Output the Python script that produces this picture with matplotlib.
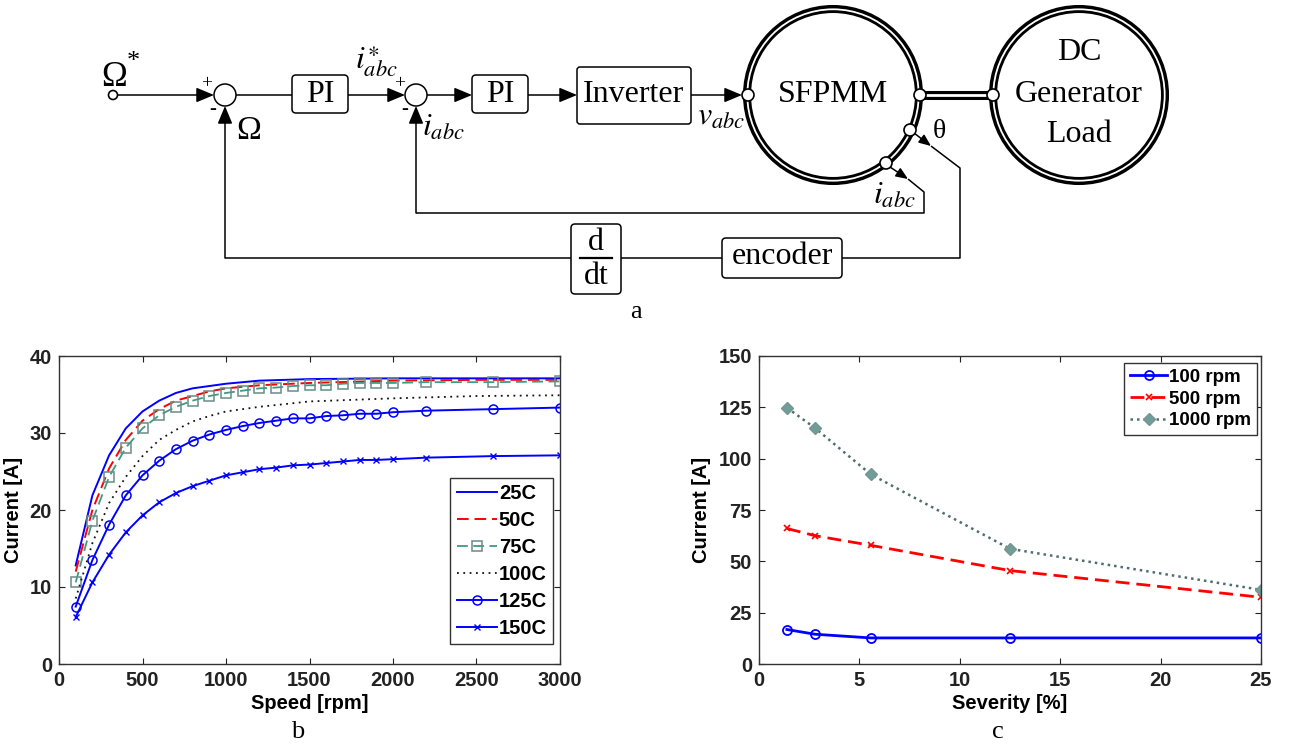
import matplotlib.pyplot as plt
from matplotlib.patches import Circle, FancyBboxPatch

plt.rcParams['mathtext.fontset'] = 'stix'

# ---- data: plot b (current vs speed for winding temperatures) ----
speed = [100, 200, 300, 400, 500, 600, 700, 800, 900, 1000, 1100, 1200, 1300,
         1400, 1500, 1600, 1700, 1800, 1900, 2000, 2200, 2600, 3000]
speed_coarse = [100, 200, 300, 400, 500, 600, 700, 800, 900, 1000, 1200, 1500,
                2000, 2500, 3000]
cur_25 = [12.8, 21.9, 27.1, 30.6, 32.8, 34.2, 35.2, 35.8, 36.1, 36.4, 36.8, 37.0,
          37.1, 37.1, 37.1]
cur_50 = [12.0, 20.0, 25.4, 29.1, 31.6, 33.1, 34.2, 34.8, 35.4, 35.8, 36.2, 36.5,
          36.8, 36.9, 36.9]
cur_100 = [8.5, 15.7, 20.9, 24.3, 27.0, 29.1, 30.4, 31.5, 32.2, 32.8, 33.4, 34.1,
           34.5, 34.8, 34.9]
cur_75 = [10.6, 18.6, 24.3, 28.1, 30.6, 32.3, 33.4, 34.2, 34.8, 35.2, 35.5, 35.8,
          35.9, 36.1, 36.2, 36.2, 36.4, 36.5, 36.5, 36.5, 36.6, 36.6, 36.7]
cur_125 = [7.45, 13.5, 18.1, 21.9, 24.5, 26.4, 27.9, 29.0, 29.8, 30.4, 30.9, 31.3,
           31.6, 31.9, 31.9, 32.2, 32.3, 32.5, 32.5, 32.7, 32.9, 33.1, 33.3]
cur_150 = [6.1, 10.6, 14.2, 17.1, 19.3, 21.0, 22.2, 23.1, 23.8, 24.5, 24.9, 25.3,
           25.5, 25.8, 25.9, 26.1, 26.3, 26.5, 26.5, 26.6, 26.8, 27.0, 27.1]

# ---- data: plot c (current vs fault severity) ----
severity = [1.39, 2.78, 5.56, 12.5, 25.0]
cur_100rpm = [16.8, 14.5, 12.7, 12.7, 12.7]
cur_500rpm = [66.0, 62.5, 57.8, 45.5, 32.5]
cur_1000rpm = [124.8, 115.0, 92.4, 56.1, 36.1]

fig = plt.figure(figsize=(12.9, 7.44), dpi=100)

# ---------------- block diagram (pixel coordinates) ----------------
ax0 = fig.add_axes([0, 0, 1, 1])
ax0.set_xlim(0, 1290)
ax0.set_ylim(744, 0)
ax0.axis('off')

LW = 1.1
SERIF = 'Liberation Serif'


def wire(xs, ys):
    ax0.plot(xs, ys, color='k', lw=LW, solid_capstyle='butt', zorder=2)


def arrow(x0, y0, x1, y1, scale=18):
    ax0.annotate('', xy=(x1, y1), xytext=(x0, y0),
                 arrowprops=dict(arrowstyle='-|>,head_length=0.6,head_width=0.25',
                                 color='k', lw=LW, shrinkA=0, shrinkB=0,
                                 mutation_scale=scale), zorder=3)


def box(x0, y0, x1, y1, rs=4):
    ax0.add_patch(FancyBboxPatch((x0, y0), x1 - x0, y1 - y0,
                                 boxstyle='round,pad=0,rounding_size=%g' % rs,
                                 fc='white', ec='k', lw=LW, zorder=4))


def label(x, y, s, size, **kw):
    ax0.text(x, y, s, fontsize=size, family=SERIF, ha='center', va='center',
             zorder=6, **kw)


def terminal(x, y, r=6):
    ax0.add_patch(Circle((x, y), r, fc='white', ec='k', lw=1.2, zorder=7))


def machine(cx, cy, r=86):
    ax0.add_patch(Circle((cx, cy), r, fill=False, ec='k', lw=5.8, zorder=3))
    ax0.add_patch(Circle((cx, cy), r - 0.3, fill=False, ec='white', lw=1.3, zorder=3))


# reference input
label(114, 77, 'Ω', 25)
label(133, 62, '*', 19)
terminal(113, 95, 4.5)
arrow(117.5, 95, 214, 95)

# speed summing junction
ax0.add_patch(Circle((225, 95), 11, fc='white', ec='k', lw=LW, zorder=4))
label(207, 84, '+', 14)
label(213, 110, '-', 15)
label(249, 131, 'Ω', 24)
wire([236, 292], [95, 95])
box(292, 75, 348, 113)
label(320, 95, 'PI', 23)
arrow(348, 95, 405, 95)

# current summing junction
ax0.add_patch(Circle((416, 95), 11, fc='white', ec='k', lw=LW, zorder=4))
label(400, 84, '+', 14)
label(405, 110, '-', 15)
label(376, 62, r'$i^{\ast}_{abc}$', 23)
label(443, 128, r'$i_{abc}$', 23)
arrow(427, 95, 472, 95)
box(472, 75, 528, 113)
label(500, 95, 'PI', 23)
arrow(528, 95, 577, 95)
box(577, 67, 691, 124, rs=3)
label(634, 94, 'Inverter', 23)
arrow(691, 95, 742, 95)
label(721, 117, r'$v_{abc}$', 23)

# machines and shaft
machine(833, 95)
label(833, 94, 'SFPMM', 23)
machine(1079, 95)
label(1079, 53, 'DC', 23)
label(1079, 94, 'Generator', 23)
label(1079, 134, 'Load', 23)
ax0.plot([920, 993], [95, 95], color='k', lw=6.5, solid_capstyle='butt', zorder=5)
ax0.plot([920, 993], [95, 95], color='white', lw=2.0, solid_capstyle='butt', zorder=5)
for tx, ty in [(748, 95), (920, 95), (993, 95), (910, 130), (886, 163)]:
    terminal(tx, ty)

# position feedback path
arrow(914, 133, 931, 146, scale=12)
wire([931, 960, 960, 842], [146, 168, 258, 258])
label(939, 132, 'θ', 20)
box(722, 238, 842, 278)
label(782, 256, 'encoder', 23)
wire([722, 621], [258, 258])
box(571, 224, 621, 294)
label(596, 242, 'd', 23)
ax0.plot([580, 612], [258, 258], color='k', lw=1.6, zorder=6)
label(596, 277, 'dt', 23)
wire([571, 225], [258, 258])
arrow(225, 258, 225, 106)

# current feedback path
arrow(890, 167, 908, 179, scale=12)
wire([908, 924, 924, 416], [179, 192, 213, 213])
arrow(416, 213, 416, 106)
label(894, 196, r'$i_{abc}$', 23)

label(636, 312, 'a', 19)
label(298, 732, 'b', 19)
label(998, 732, 'c', 19)

# ---------------- plots b and c ----------------
SANS = 'Liberation Sans'
FS = 14.5


def style(ax):
    ax.tick_params(direction='in', top=True, right=True, length=4, width=0.8,
                   pad=5, labelsize=FS, colors='#222222')
    for lab in ax.get_xticklabels() + ax.get_yticklabels():
        lab.set_fontweight('bold')
        lab.set_family(SANS)
    for sp in ax.spines.values():
        sp.set_color('#333333')
        sp.set_linewidth(1.0)


W, H = 1290, 744
axb = fig.add_axes([59 / W, (H - 664) / H, (560 - 59) / W, (664 - 356) / H])
axb.plot(speed_coarse, cur_25, color='#0000ff', lw=1.4, label='25C')
axb.plot(speed_coarse, cur_50, color='#ff0000', lw=1.4, dashes=(6, 3), label='50C')
axb.plot(speed, cur_75, color='#3f9a82', lw=1.3, dashes=(6, 3), marker='s', ms=7,
         mfc='none', mec='#6a8c88', mew=1.1, label='75C')
axb.plot(speed_coarse, cur_100, color='#111111', lw=1.3, ls=(0, (1, 2.5)), label='100C')
axb.plot(speed, cur_125, color='#0000ff', lw=1.4, marker='o', ms=6.5, mfc='none',
         mew=1.1, label='125C')
axb.plot(speed, cur_150, color='#0000ff', lw=1.4, marker='x', ms=4, mew=1.0,
         label='150C')
axb.set_xlim(0, 3000)
axb.set_ylim(0, 40)
axb.set_xticks([0, 500, 1000, 1500, 2000, 2500, 3000])
axb.set_yticks([0, 10, 20, 30, 40])
style(axb)
axb.set_xlabel('Speed [rpm]', fontsize=FS, fontweight='bold', family=SANS, labelpad=3)
axb.set_ylabel('Current [A]', fontsize=FS, fontweight='bold', family=SANS, labelpad=5)
lg = axb.legend(loc='lower right', bbox_to_anchor=(0.986, 0.065), borderaxespad=0,
                prop={'family': SANS, 'weight': 'bold', 'size': FS}, fancybox=False,
                framealpha=1, edgecolor='#333333', handlelength=2.0,
                handletextpad=0.1, labelspacing=0.40, borderpad=0.3, numpoints=1)
lg.get_frame().set_linewidth(1.0)

axc = fig.add_axes([759 / W, (H - 664) / H, (1261 - 759) / W, (664 - 356) / H])
axc.plot(severity, cur_100rpm, color='#0000ff', lw=2.0, marker='o', ms=6.5,
         mfc='none', mew=1.3, label='100 rpm')
axc.plot(severity, cur_500rpm, color='#ff0000', lw=2.0, dashes=(5, 2.5), marker='x',
         ms=4.5, mew=1.2, label='500 rpm')
axc.plot(severity, cur_1000rpm, color='#4d6e6c', lw=1.8, ls=(0, (1, 1.6)), marker='D',
         ms=6.5, mfc='#6e9e98', mec='#7a9494', label='1000 rpm')
axc.set_xlim(0, 25)
axc.set_ylim(0, 150)
axc.set_xticks([0, 5, 10, 15, 20, 25])
axc.set_yticks([0, 25, 50, 75, 100, 125, 150])
style(axc)
axc.set_xlabel('Severity [%]', fontsize=FS, fontweight='bold', family=SANS, labelpad=3)
axc.set_ylabel('Current [A]', fontsize=FS, fontweight='bold', family=SANS, labelpad=5)
lg = axc.legend(loc='upper right', bbox_to_anchor=(0.992, 0.977), borderaxespad=0,
                prop={'family': SANS, 'weight': 'bold', 'size': 13.5}, fancybox=False,
                framealpha=1, edgecolor='#333333', handlelength=2.0,
                handletextpad=0.1, labelspacing=0.25, borderpad=0.3, numpoints=1)
lg.get_frame().set_linewidth(1.0)

fig.savefig('out.png', dpi=100, facecolor='white')
